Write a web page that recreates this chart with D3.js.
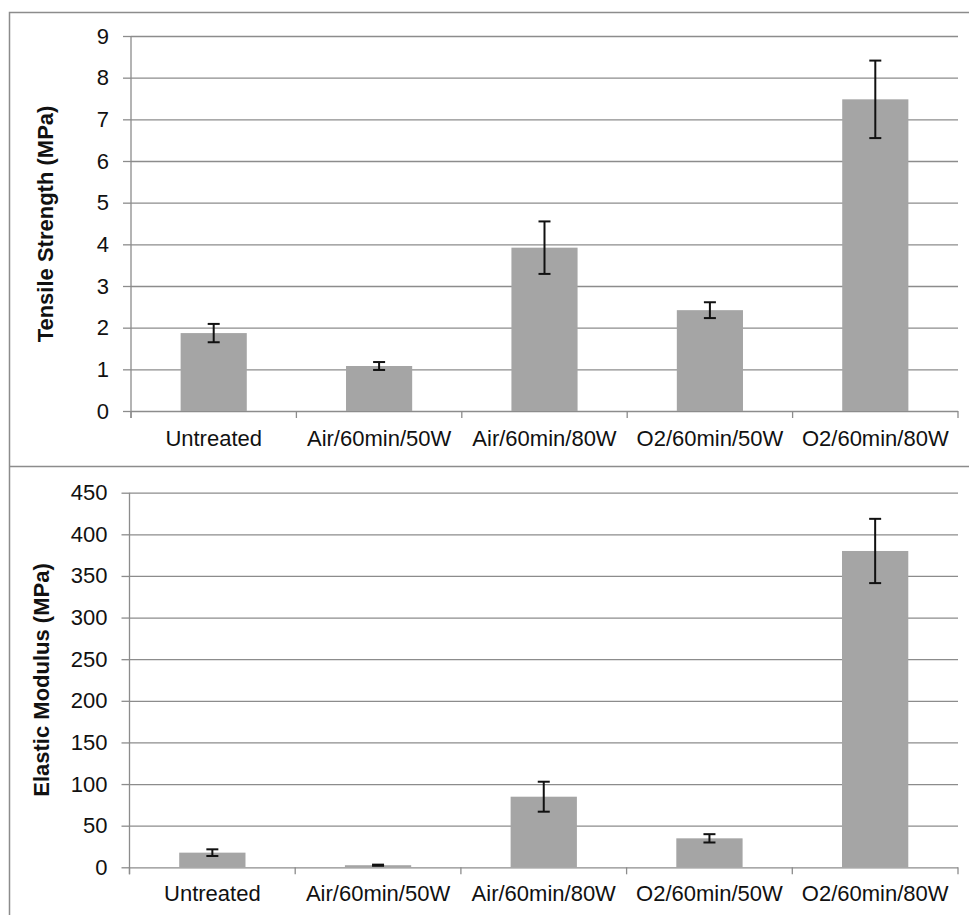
<!DOCTYPE html>
<html>
<head>
<meta charset="utf-8">
<script src="https://cdn.jsdelivr.net/npm/d3@7"></script>
<style>
	body { margin: 0; background: #fff; }
	svg { display: block; font-family: "Liberation Sans", Arial, sans-serif; }
</style>
</head>
<body>
<svg id="chart" width="969" height="915"></svg>
<script>

const categories = ['Untreated', 'Air/60min/50W', 'Air/60min/80W', 'O2/60min/50W', 'O2/60min/80W'];

const tensile = [1.87, 1.08, 3.92, 2.42, 7.48];       // MPa
const tensile_err = [0.22, 0.095, 0.63, 0.19, 0.93];
const tensile_ticks = [0, 1, 2, 3, 4, 5, 6, 7, 8, 9];

const modulus = [17.6, 2.5, 84.8, 34.8, 380];        // MPa
const modulus_err = [4, 0.7, 18, 5, 38.6];
const modulus_ticks = [0, 50, 100, 150, 200, 250, 300, 350, 400, 450];

const svg = d3.select('#chart');

// outer frame and separator, like the pasted excel charts
svg.append('path')
	.attr('d', 'M9.5,915 V12.5 H969 M9.5,466.5 H969')
	.attr('fill', 'none')
	.attr('stroke', '#8c8c8c')
	.attr('stroke-width', 1.5);

function drawPanel(opts) {

	const g = svg.append('g');
	const {x0, x1, y0, y1} = opts;

	let x = d3.scaleBand()
	.domain(categories)
	.range([x0, x1])
	.paddingInner(0.6)
	.paddingOuter(0.3);

	let y = d3.scaleLinear()
	.domain([0, d3.max(opts.ticks)])
	.range([y1, y0]);

	// gridlines
	g.append('g')
	.attr('transform', `translate(${x0},0)`)
	.call(d3.axisLeft(y).tickValues(opts.ticks).tickSize(-(x1 - x0)).tickFormat(''))
	.call(s => s.select('.domain').remove())
	.call(s => s.selectAll('line').attr('stroke', '#8c8c8c').attr('stroke-width', 1.3));

	// y axis with labels
	g.append('g')
	.attr('transform', `translate(${x0},0)`)
	.call(d3.axisLeft(y).tickValues(opts.ticks).tickSize(8).tickPadding(14).tickSizeOuter(0))
	.call(s => s.select('.domain').remove())
	.call(s => s.selectAll('line').attr('stroke', '#8c8c8c').attr('stroke-width', 1.3))
	.call(s => s.selectAll('text').attr('font-size', 22).attr('fill', '#111').attr('font-family', null));

	g.append('line')
	.attr('x1', x0).attr('x2', x0)
	.attr('y1', y0).attr('y2', y1 + 7)
	.attr('stroke', '#8c8c8c').attr('stroke-width', 1.3);

	// x axis boundary ticks
	g.selectAll('.xtick')
	.data(d3.range(categories.length + 1))
	.join('line')
	.attr('x1', i => x0 + i * x.step())
	.attr('x2', i => x0 + i * x.step())
	.attr('y1', y1)
	.attr('y2', y1 + 7)
	.attr('stroke', '#8c8c8c').attr('stroke-width', 1.3);

	// category labels
	g.append('g')
	.attr('transform', `translate(0,${y1})`)
	.call(d3.axisBottom(x).tickSize(0).tickPadding(opts.labelPad))
	.call(s => s.select('.domain').remove())
	.call(s => s.selectAll('text').attr('font-size', 22).attr('fill', '#111').attr('font-family', null));

	// bars
	g.selectAll('.bar')
	.data(opts.values)
	.join('rect')
	.attr('x', (d, i) => x(categories[i]))
	.attr('width', x.bandwidth())
	.attr('y', d => y(d))
	.attr('height', d => y(0) - y(d))
	.attr('fill', '#a5a5a5');

	// error bars
	const eb = g.selectAll('.err')
	.data(opts.values.map((v, i) => ({v: v, e: opts.errors[i], c: categories[i]})))
	.join('g')
	.attr('stroke', '#111')
	.attr('stroke-width', 2);

	const cx = d => x(d.c) + x.bandwidth() / 2;
	eb.append('line')
	.attr('x1', cx).attr('x2', cx)
	.attr('y1', d => y(d.v + d.e)).attr('y2', d => y(d.v - d.e));
	eb.append('line')
	.attr('x1', d => cx(d) - 6).attr('x2', d => cx(d) + 6)
	.attr('y1', d => y(d.v + d.e)).attr('y2', d => y(d.v + d.e));
	eb.append('line')
	.attr('x1', d => cx(d) - 6).attr('x2', d => cx(d) + 6)
	.attr('y1', d => y(d.v - d.e)).attr('y2', d => y(d.v - d.e));

	// axis title
	g.append('text')
	.attr('transform', `translate(${opts.titleX},${opts.titleY}) rotate(-90)`)
	.attr('text-anchor', 'middle')
	.attr('dominant-baseline', 'central')
	.attr('font-size', 22)
	.attr('font-weight', 'bold')
	.attr('fill', '#111')
	.text(opts.title);
}

drawPanel({
	values: tensile, errors: tensile_err, ticks: tensile_ticks,
	title: 'Tensile Strength (MPa)',
	x0: 131, x1: 958, y0: 36, y1: 411,
	labelPad: 19, titleX: 45, titleY: 224
});

drawPanel({
	values: modulus, errors: modulus_err, ticks: modulus_ticks,
	title: 'Elastic Modulus (MPa)',
	x0: 129.5, x1: 958, y0: 492.7, y1: 867.3,
	labelPad: 18, titleX: 41, titleY: 680
});

</script>
</body>
</html>
